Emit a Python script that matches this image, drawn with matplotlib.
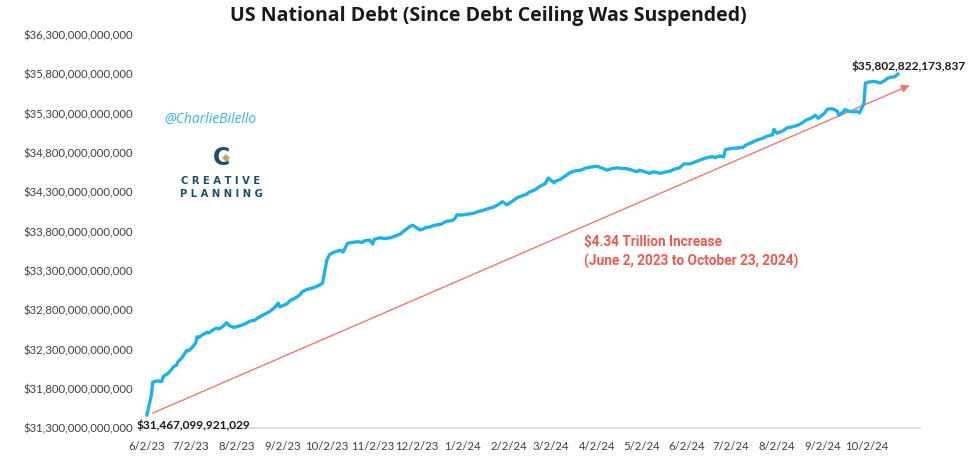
import matplotlib
matplotlib.use("Agg")
import matplotlib.pyplot as plt
import matplotlib.ticker as mticker
from matplotlib.lines import Line2D
import pandas as pd

# ---------------- data (debt in trillions of USD) ----------------
dates = [
    "2023-06-02", "2023-06-05", "2023-06-06", "2023-06-09", "2023-06-12", "2023-06-13", "2023-06-14",
    "2023-06-16", "2023-06-19", "2023-06-20", "2023-06-22", "2023-06-23", "2023-06-26", "2023-06-29",
    "2023-06-30", "2023-07-03", "2023-07-05", "2023-07-06", "2023-07-07", "2023-07-10", "2023-07-13",
    "2023-07-14", "2023-07-17", "2023-07-19", "2023-07-21", "2023-07-24", "2023-07-26", "2023-07-28",
    "2023-07-31", "2023-08-02", "2023-08-04", "2023-08-07", "2023-08-11", "2023-08-14", "2023-08-16",
    "2023-08-18", "2023-08-22", "2023-08-24", "2023-08-28", "2023-08-30", "2023-08-31", "2023-09-05",
    "2023-09-07", "2023-09-08", "2023-09-12", "2023-09-14", "2023-09-15", "2023-09-18", "2023-09-22",
    "2023-09-25", "2023-09-27", "2023-09-29", "2023-10-02", "2023-10-04", "2023-10-06", "2023-10-09",
    "2023-10-11", "2023-10-13", "2023-10-16", "2023-10-19", "2023-10-23", "2023-10-26", "2023-10-27",
    "2023-10-31", "2023-11-02", "2023-11-03", "2023-11-07", "2023-11-10", "2023-11-14", "2023-11-17",
    "2023-11-21", "2023-11-22", "2023-11-27", "2023-11-28", "2023-11-29", "2023-12-04", "2023-12-06",
    "2023-12-08", "2023-12-11", "2023-12-14", "2023-12-18", "2023-12-20", "2023-12-22", "2023-12-26",
    "2023-12-28", "2023-12-29", "2024-01-02", "2024-01-05", "2024-01-09", "2024-01-12", "2024-01-16",
    "2024-01-19", "2024-01-23", "2024-01-26", "2024-01-29", "2024-02-01", "2024-02-05", "2024-02-08",
    "2024-02-12", "2024-02-14", "2024-02-16", "2024-02-20", "2024-02-23", "2024-02-27", "2024-02-29",
    "2024-03-04", "2024-03-05", "2024-03-08", "2024-03-11", "2024-03-15", "2024-03-18", "2024-03-22",
    "2024-03-26", "2024-03-29", "2024-04-02", "2024-04-05", "2024-04-09", "2024-04-12", "2024-04-16",
    "2024-04-19", "2024-04-22", "2024-04-26", "2024-04-29", "2024-05-01", "2024-05-06", "2024-05-08",
    "2024-05-10", "2024-05-13", "2024-05-15", "2024-05-17", "2024-05-22", "2024-05-24", "2024-05-28",
    "2024-05-31", "2024-06-04", "2024-06-07", "2024-06-11", "2024-06-14", "2024-06-18", "2024-06-20",
    "2024-06-21", "2024-06-24", "2024-06-27", "2024-06-28", "2024-07-03", "2024-07-05", "2024-07-10",
    "2024-07-12", "2024-07-17", "2024-07-19", "2024-07-24", "2024-07-26", "2024-07-30", "2024-07-31",
    "2024-08-02", "2024-08-06", "2024-08-09", "2024-08-12", "2024-08-16", "2024-08-19", "2024-08-22",
    "2024-08-26", "2024-08-28", "2024-08-30", "2024-09-03", "2024-09-05", "2024-09-06", "2024-09-09",
    "2024-09-12", "2024-09-13", "2024-09-16", "2024-09-17", "2024-09-20", "2024-09-23", "2024-09-25",
    "2024-09-27", "2024-09-30", "2024-10-01", "2024-10-02", "2024-10-03", "2024-10-07", "2024-10-09",
    "2024-10-11", "2024-10-14", "2024-10-16", "2024-10-18", "2024-10-21", "2024-10-22", "2024-10-23",
]
debt_trillions = [
    31.467, 31.72, 31.885, 31.90, 31.89, 31.95, 31.97,
    31.99, 32.05, 32.08, 32.10, 32.14, 32.20, 32.29,
    32.28, 32.33, 32.38, 32.46, 32.45, 32.49, 32.52,
    32.51, 32.55, 32.57, 32.56, 32.60, 32.64, 32.60,
    32.58, 32.59, 32.60, 32.62, 32.66, 32.67, 32.70,
    32.72, 32.76, 32.78, 32.84, 32.89, 32.84, 32.88,
    32.92, 32.93, 32.97, 33.00, 33.03, 33.06, 33.08,
    33.10, 33.12, 33.14, 33.44, 33.51, 33.53, 33.55,
    33.56, 33.54, 33.65, 33.66, 33.67, 33.66, 33.68,
    33.69, 33.64, 33.70, 33.72, 33.71, 33.72, 33.74,
    33.77, 33.79, 33.86, 33.87, 33.88, 33.82, 33.83,
    33.85, 33.86, 33.88, 33.89, 33.91, 33.93, 33.94,
    33.97, 34.01, 34.01, 34.02, 34.03, 34.05, 34.07,
    34.09, 34.11, 34.14, 34.18, 34.14, 34.19, 34.23,
    34.26, 34.27, 34.30, 34.33, 34.37, 34.41, 34.48,
    34.42, 34.44, 34.46, 34.50, 34.55, 34.57, 34.58,
    34.61, 34.62, 34.63, 34.61, 34.58, 34.60, 34.61,
    34.60, 34.60, 34.58, 34.56, 34.58, 34.55, 34.54,
    34.56, 34.55, 34.54, 34.55, 34.57, 34.59, 34.61,
    34.66, 34.66, 34.68, 34.71, 34.73, 34.75, 34.75,
    34.74, 34.76, 34.75, 34.84, 34.86, 34.86, 34.87,
    34.90, 34.94, 34.96, 34.99, 35.01, 35.03, 35.10,
    35.05, 35.08, 35.12, 35.13, 35.15, 35.18, 35.22,
    35.25, 35.28, 35.24, 35.30, 35.35, 35.36, 35.36,
    35.33, 35.28, 35.32, 35.35, 35.33, 35.32, 35.33,
    35.31, 35.43, 35.69, 35.69, 35.70, 35.71, 35.70,
    35.69, 35.72, 35.75, 35.76, 35.77, 35.79, 35.802822173837,
]

y_ticks_trillions = [31.3, 31.8, 32.3, 32.8, 33.3, 33.8, 34.3, 34.8, 35.3, 35.8, 36.3]
x_tick_dates = ["2023-06-02", "2023-07-02", "2023-08-02", "2023-09-02", "2023-10-02", "2023-11-02",
                "2023-12-02", "2024-01-02", "2024-02-02", "2024-03-02", "2024-04-02", "2024-05-02",
                "2024-06-02", "2024-07-02", "2024-08-02", "2024-09-02", "2024-10-02"]
x_tick_labels = ["6/2/23", "7/2/23", "8/2/23", "9/2/23", "10/2/23", "11/2/23", "12/2/23", "1/2/24",
                 "2/2/24", "3/2/24", "4/2/24", "5/2/24", "6/2/24", "7/2/24", "8/2/24", "9/2/24", "10/2/24"]

arrow_start = ("2023-06-06", 31.49)
arrow_end = ("2024-10-31", 35.66)

title = "US National Debt (Since Debt Ceiling Was Suspended)"
start_label = "$31,467,099,921,029"
end_label = "$35,802,822,173,837"
increase_lines = ["$4.34 Trillion Increase", "(June 2, 2023 to October 23, 2024)"]

# ---------------- figure ----------------
W, H = 977, 461
fig = plt.figure(figsize=(W / 100, H / 100), dpi=100)
fig.patch.set_facecolor("white")

def fx(px):
    return px / W

def fy(py):
    return 1 - py / H

ax = fig.add_axes([fx(140), fy(428), fx(920) - fx(140), fy(35) - fy(428)])

x = pd.to_datetime(dates)
ax.plot(x, debt_trillions, color="#1fb2e6", lw=2.4, solid_joinstyle="round", zorder=3)

ax.set_ylim(31.3, 36.3)
ax.set_xlim(pd.Timestamp("2023-06-02") - pd.Timedelta(days=4.7), pd.Timestamp("2024-11-07"))

ax.set_yticks(y_ticks_trillions)
ax.yaxis.set_major_formatter(mticker.FuncFormatter(lambda v, p: f"${round(v * 1000):,}" + ",000,000,000"))
ax.set_xticks(pd.to_datetime(x_tick_dates))
ax.set_xticklabels(x_tick_labels)

for s in ["top", "right", "left"]:
    ax.spines[s].set_visible(False)
ax.spines["bottom"].set_color("#d9d9d9")
ax.spines["bottom"].set_linewidth(1.2)
ax.tick_params(axis="both", length=0, colors="#404040", labelsize=8.2)
ax.tick_params(axis="x", pad=9)
ax.tick_params(axis="y", pad=5)
for lab in ax.get_xticklabels() + ax.get_yticklabels():
    lab.set_family("Lato")
    lab.set_color("#404040")

# arrow
ax.annotate("", xy=(pd.Timestamp(arrow_end[0]), arrow_end[1]),
            xytext=(pd.Timestamp(arrow_start[0]), arrow_start[1]),
            arrowprops=dict(arrowstyle="-|>", color="#ee7a70", lw=1.0,
                            mutation_scale=12, shrinkA=0, shrinkB=0), zorder=2)

# title
fig.text(fx(488), fy(16), title, ha="center", va="center", fontsize=14, fontweight="bold",
         family="Open Sans", color="#1a1a1a")

# start/end labels
fig.text(fx(137), fy(425), start_label, ha="left", va="center", fontsize=8.6, fontweight="bold",
         family="Lato", color="#1a1a1a")
fig.text(fx(852), fy(66), end_label, ha="left", va="center", fontsize=8.6, fontweight="bold",
         family="Lato", color="#1a1a1a")

# increase annotation
fig.text(fx(584), fy(242), increase_lines[0], ha="left", va="center", fontsize=9.8, fontweight="bold",
         family="Roboto", color="#ec5a4f")
fig.text(fx(584), fy(261), increase_lines[1], ha="left", va="center", fontsize=9.8, fontweight="bold",
         family="Roboto", color="#ec5a4f")

# watermark
fig.text(fx(164), fy(119), "@CharlieBilello", ha="left", va="center", fontsize=10, style="italic",
         family="Open Sans", color="#35b6e6")

# logo
fig.text(fx(221), fy(158), "C", ha="center", va="center", fontsize=17, fontweight="bold",
         family="DejaVu Sans", color="#1d4f6c")
fig.add_artist(Line2D([fx(226)], [fy(158)], marker="D", markersize=4.5, color="#c6a469",
                      markeredgewidth=0, linestyle="none", transform=fig.transFigure))
fig.text(fx(221), fy(181), "C R E A T I V E", ha="center", va="center", fontsize=7.2, fontweight="bold",
         family="DejaVu Sans", color="#1d4f6c")
fig.text(fx(221), fy(194), "P L A N N I N G", ha="center", va="center", fontsize=7.2, fontweight="bold",
         family="DejaVu Sans", color="#1d4f6c")

fig.savefig("out.png", dpi=100, facecolor="white")
